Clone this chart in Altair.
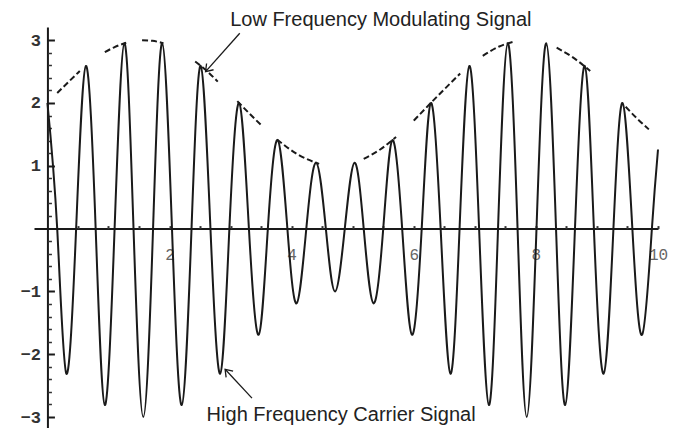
import altair as alt
import pandas as pd

# ---- carrier signal: peaks/troughs and zero crossings ----
peak_x = [0.0, 0.31, 0.63, 0.94, 1.26, 1.57, 1.88, 2.2, 2.51, 2.83, 3.14, 3.46, 3.77, 4.08, 4.4, 4.71,
          5.03, 5.34, 5.65, 5.97, 6.28, 6.6, 6.91, 7.23, 7.54, 7.85, 8.17, 8.48, 8.8, 9.11, 9.42, 9.74, 10.0]
peak_y = [2.0, -2.31, 2.59, -2.81, 2.95, -3.0, 2.95, -2.81, 2.59, -2.31, 2.0, -1.69, 1.41, -1.19, 1.05, -1.0,
          1.05, -1.19, 1.41, -1.69, 2.0, -2.31, 2.59, -2.81, 2.95, -3.0, 2.95, -2.81, 2.59, -2.31, 2.0, -1.69, 1.26]
cross_x = [0.16, 0.47, 0.79, 1.1, 1.41, 1.73, 2.04, 2.36, 2.67, 2.98, 3.3, 3.61, 3.93, 4.24, 4.56, 4.87,
           5.18, 5.5, 5.81, 6.13, 6.44, 6.75, 7.07, 7.38, 7.7, 8.01, 8.33, 8.64, 8.95, 9.27, 9.58, 9.9]
cross_y = [0.0] * len(cross_x)

# ---- dashed envelope pieces (low frequency modulating signal) ----
env_seg = [1, 1, 1, 2, 2, 2, 3, 3, 3, 4, 4, 4, 5, 5, 5, 6, 6, 6, 7, 7, 7, 8, 8, 8, 9, 9, 9, 10, 10, 10, 11, 11, 11]
env_x = [0.16, 0.35, 0.53, 0.94, 1.1, 1.29, 1.55, 1.72, 1.9, 2.42, 2.6, 2.79, 3.11, 3.3, 3.52, 3.76, 4.1, 4.45,
         5.18, 5.45, 5.71, 6.0, 6.38, 6.76, 7.13, 7.4, 7.65, 8.34, 8.6, 8.89, 9.47, 9.66, 9.85]
env_y = [2.16, 2.34, 2.51, 2.81, 2.89, 2.96, 3.0, 2.99, 2.95, 2.66, 2.52, 2.34, 2.03, 1.84, 1.63, 1.42, 1.18, 1.03,
         1.11, 1.26, 1.46, 1.72, 2.1, 2.47, 2.75, 2.9, 2.98, 2.88, 2.73, 2.51, 1.94, 1.75, 1.58]

# ---- annotations ----
note_text = ["Low Frequency Modulating Signal", "High Frequency Carrier Signal"]
note_x = [5.46, 4.81]
note_y = [3.23, -3.07]
arrow_x = [3.15, 3.35]
arrow_y = [3.11, -2.70]
tip_x = [2.59, 2.91]
tip_y = [2.50, -2.24]
tip_angle = [132, 228]

# ---- tick values ----
y_major = [-3, -2, -1, 1, 2, 3]
y_minor = [round(-3 + 0.2 * i, 1) for i in range(31) if i % 5 != 0]
x_labels = [2, 4, 6, 8, 10]
x_minor = [0.5 * i for i in range(1, 21)]

carrier = pd.DataFrame({"x": peak_x + cross_x, "y": peak_y + cross_y}).sort_values("x")
envelope = pd.DataFrame({"seg": env_seg, "x": env_x, "y": env_y})
arrows = pd.DataFrame({"x": arrow_x, "y": arrow_y, "x2": tip_x, "y2": tip_y, "ang": tip_angle})
notes = pd.DataFrame({"x": note_x, "y": note_y, "t": note_text})

W, H = 624, 401
XD = [-0.22, 10.0]
YD = [-3.175, 3.21]
ux = W / (XD[1] - XD[0])
uy = H / (YD[1] - YD[0])
x0 = -XD[0] * ux          # pixel of x=0 from left edge
y0 = YD[1] * uy           # pixel of y=0 from top

xs = alt.Scale(domain=XD, nice=False, zero=False)
ys = alt.Scale(domain=YD, nice=False, zero=False)
INK = "#1a1a1a"

ax_y_labels = alt.Axis(orient="left", offset=-x0, values=y_major, ticks=False, tickSize=0,
                       domain=True, domainColor=INK, domainWidth=2, grid=False, title=None,
                       labelFont="Liberation Mono", labelFontSize=17, labelFontWeight="bold",
                       labelColor="#333", labelPadding=7,
                       labelExpr="replace(datum.label, '-', '\u2212')")
ax_y_major = alt.Axis(orient="right", offset=-(W - x0), values=y_major, ticks=True, tickSize=7,
                      tickWidth=2, tickColor=INK, labels=False, domain=False, grid=False, title=None)
ax_y_minor = alt.Axis(orient="right", offset=-(W - x0), values=y_minor, ticks=True, tickSize=4,
                      tickWidth=1.5, tickColor="#333", labels=False, domain=False, grid=False, title=None)
ax_x_labels = alt.Axis(orient="bottom", offset=-(H - y0), values=x_labels, ticks=False, tickSize=0,
                       domain=True, domainColor=INK, domainWidth=2, grid=False, title=None,
                       labelFont="Liberation Mono", labelFontSize=16, labelColor="#666",
                       labelPadding=18, labelOverlap=False, labelBound=False, labelFlush=False)
ax_x_ticks = alt.Axis(orient="top", offset=-y0, values=x_minor, ticks=True, tickSize=3,
                      tickWidth=2, tickColor="#333", labels=False, domain=False, grid=False, title=None)

carrier_line = alt.Chart(carrier).mark_line(
    color=INK, strokeWidth=2, interpolate="natural"
).encode(
    x=alt.X("x:Q", scale=xs, axis=ax_x_labels),
    y=alt.Y("y:Q", scale=ys, axis=ax_y_labels),
    order="x:Q",
)

env_line = alt.Chart(envelope).mark_line(
    color=INK, strokeWidth=2, strokeDash=[6, 3], interpolate="monotone"
).encode(
    x=alt.X("x:Q", scale=xs, axis=ax_x_ticks),
    y=alt.Y("y:Q", scale=ys, axis=ax_y_major),
    detail="seg:N",
    order="x:Q",
)

arrow_lines = alt.Chart(arrows).mark_rule(color=INK, strokeWidth=1.3).encode(
    x=alt.X("x:Q", scale=xs, axis=None),
    y=alt.Y("y:Q", scale=ys, axis=ax_y_minor),
    x2="x2:Q",
    y2="y2:Q",
)

arrow_heads = alt.Chart(arrows).mark_point(
    shape="M-1,-0.7L0,0L-1,0.7", filled=False, stroke=INK, strokeWidth=1.3, size=180, opacity=1
).encode(
    x=alt.X("x2:Q", scale=xs, axis=None),
    y=alt.Y("y2:Q", scale=ys, axis=None),
    angle=alt.Angle("ang:Q", scale=None),
)

labels = alt.Chart(notes).mark_text(
    font="Liberation Sans", fontSize=20, color="#222", align="center", baseline="alphabetic"
).encode(
    x=alt.X("x:Q", scale=xs, axis=None),
    y=alt.Y("y:Q", scale=ys, axis=None),
    text="t:N",
)

chart = alt.layer(carrier_line, env_line, arrow_lines, arrow_heads, labels).resolve_axis(
    x="independent", y="independent"
).properties(
    width=W, height=H,
    padding={"left": 26, "top": 19, "right": 10, "bottom": 0},
    autosize=alt.AutoSizeParams(type="none"),
    background="white",
).configure_view(stroke=None)

chart.save("out.html", embed_options={"renderer": "svg", "actions": False})
